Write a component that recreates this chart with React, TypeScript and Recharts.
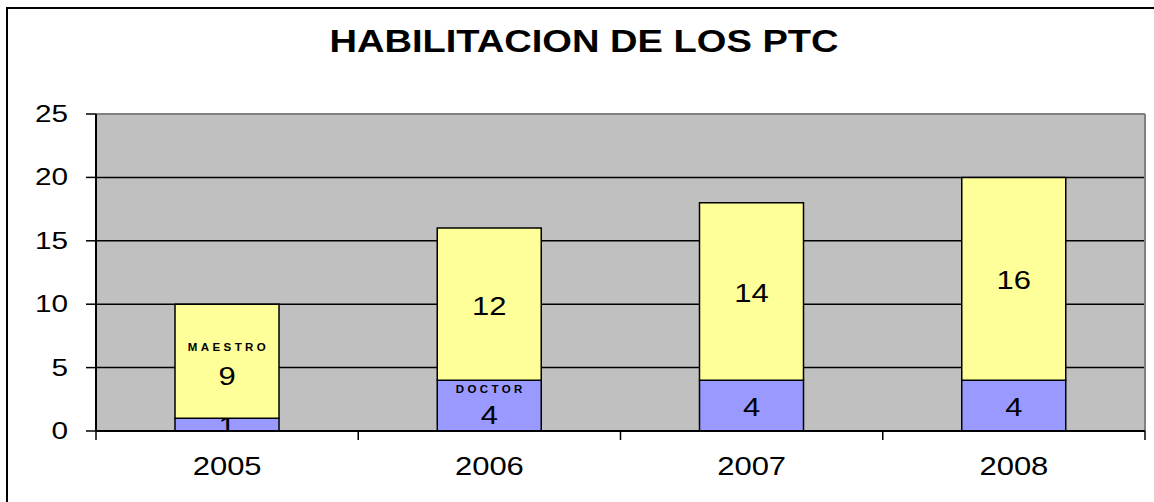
import { BarChart, Bar, XAxis, YAxis, CartesianGrid, LabelList, ReferenceLine } from "recharts";

const years = ["2005", "2006", "2007", "2008"];
const doctor = [1, 4, 4, 4];
const maestro = [9, 12, 14, 16];
const yTicks = [0, 5, 10, 15, 20, 25];

const data = years.map((year, i) => ({ year, doctor: doctor[i], maestro: maestro[i] }));

const font = "'Liberation Sans', Arial, sans-serif";
// el original usa una Arial algo ensanchada
const stretch = 1.24;

function Wide({ x, y, anchor, size, children }: any) {
  return (
    <text transform={`translate(${x},${y}) scale(${stretch},1)`} textAnchor={anchor}
      dominantBaseline="central" fontFamily={font} fontSize={size} fill="#000">
      {children}
    </text>
  );
}

function YTick(props: any) {
  const { x, y, payload } = props;
  return <Wide x={x} y={y} anchor="end" size={24}>{payload.value}</Wide>;
}

// etiqueta de año + marcas en los bordes de cada categoría
function XTick(props: any) {
  const { x, y, payload, index, width, visibleTicksCount } = props;
  const half = Number(width) / Number(visibleTicksCount) / 2;
  return (
    <g>
      <line x1={x - half} x2={x - half} y1={y} y2={y + 9} stroke="#000" strokeWidth={1.5} />
      {index === visibleTicksCount - 1 && (
        <line x1={x + half} x2={x + half} y1={y} y2={y + 9} stroke="#000" strokeWidth={1.5} />
      )}
      <Wide x={x} y={y + 36} anchor="middle" size={25}>{payload.value}</Wide>
    </g>
  );
}

// etiqueta del segmento: valor centrado, y en una barra el nombre de la serie encima
function segLabel(tag: string, tagIndex: number, tagDy: number, valDy: number) {
  return (props: any) => {
    const { x, y, width, height, value, index } = props;
    const cx = Number(x) + Number(width) / 2;
    const cy = Number(y) + Number(height) / 2;
    const clipId = `clip-${tag}-${index}`;
    if (index === tagIndex) {
      return (
        <g>
          <text x={cx + 1.5} y={cy + tagDy} textAnchor="middle" dominantBaseline="central"
            fontFamily={font} fontSize={11.5} fontWeight="bold" letterSpacing={3.4} fill="#000">
            {tag}
          </text>
          <Wide x={cx} y={cy + valDy} anchor="middle" size={25}>{value}</Wide>
        </g>
      );
    }
    return (
      <g>
        <clipPath id={clipId}>
          <rect x={x} y={y} width={width} height={height} />
        </clipPath>
        <g clipPath={`url(#${clipId})`}>
          <Wide x={cx} y={cy + 2} anchor="middle" size={25}>{value}</Wide>
        </g>
      </g>
    );
  };
}

export default function App() {
  return (
    <div style={{ position: "absolute", left: 0, top: 0, width: 1154, height: 502, overflow: "hidden", background: "#fff" }}>
      <div style={{ position: "absolute", left: 6, top: 7, width: 1300, height: 700, border: "2px solid #000" }} />
      <div style={{
        position: "absolute", left: 0, top: 23, width: 1168, textAlign: "center",
        fontFamily: font, fontWeight: "bold", fontSize: 32, color: "#000",
        transform: "scaleX(1.19)", transformOrigin: "584px 0",
      }}>
        HABILITACION DE LOS PTC
      </div>
      <div style={{ position: "absolute", left: 0, top: 0 }}>
        <BarChart width={1154} height={502} data={data} barSize={104}
          margin={{ top: 114, right: 9, bottom: 0, left: 0 }}>
          <CartesianGrid vertical={false} fill="#C0C0C0" stroke="#000" strokeWidth={1.5} fillOpacity={1} />
          <CartesianGrid horizontal={false} stroke="#808080" strokeWidth={2}
            verticalCoordinatesGenerator={({ offset }: any) => [offset.left + offset.width]} />
          <XAxis dataKey="year" height={71} tickLine={false} tickSize={0} tickMargin={0} interval={0}
            axisLine={{ stroke: "#000", strokeWidth: 2 }} tick={<XTick />} />
          <YAxis domain={[0, 25]} ticks={yTicks} width={96} tickSize={10} tickMargin={18} interval={0}
            axisLine={{ stroke: "#000", strokeWidth: 2 }} tickLine={{ stroke: "#000", strokeWidth: 1.5 }}
            tick={<YTick />} />
          <ReferenceLine y={25} stroke="#808080" strokeWidth={2} />
          <Bar dataKey="doctor" stackId="a" fill="#9999FF" stroke="#000" strokeWidth={1.5} isAnimationActive={false}>
            <LabelList dataKey="doctor" content={segLabel("DOCTOR", 1, -17, 10)} />
          </Bar>
          <Bar dataKey="maestro" stackId="a" fill="#FFFF99" stroke="#000" strokeWidth={1.5} isAnimationActive={false}>
            <LabelList dataKey="maestro" content={segLabel("MAESTRO", 0, -14, 15)} />
          </Bar>
        </BarChart>
      </div>
    </div>
  );
}
